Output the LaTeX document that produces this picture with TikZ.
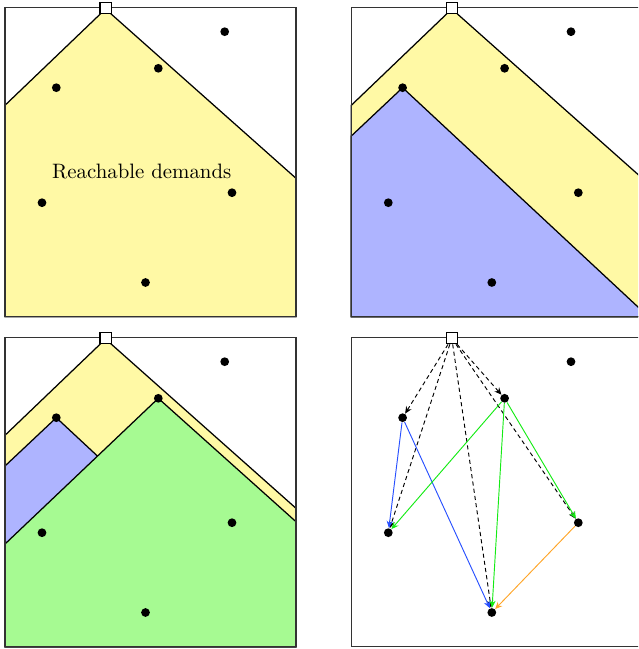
\documentclass[tikz,border=0pt]{standalone}
\usepackage{tikz}
\usetikzlibrary{arrows.meta}

\definecolor{reachyellow}{RGB}{255,249,165}
\definecolor{reachblue}{RGB}{174,180,255}
\definecolor{reachgreen}{RGB}{166,250,146}
\definecolor{routeblue}{RGB}{40,80,255}
\definecolor{routegreen}{RGB}{20,235,20}
\definecolor{routeorange}{RGB}{255,165,40}

\tikzset{
    frame/.style={draw=black!80, line width=0.5pt},
    zone/.style={draw=black, line width=0.6pt},
    demand/.style={circle, fill=black, inner sep=0pt, minimum size=4.2pt},
    depot/.style={rectangle, draw=black, fill=white, line width=0.5pt, inner sep=0pt, minimum size=5.3pt},
    route/.style={line width=0.45pt, -{Stealth[length=3.4pt, width=3pt]}},
    trip/.style={route, black, dash pattern=on 2pt off 1.5pt},
}

% demand points: name/x/y in pixels of one panel
\newcommand{\demandlist}{1/224.7/31.7, 2/158.3/68.3, 3/56.3/87.7, 4/42/202.7, 5/232/192.7, 6/145.5/282.5}

\newcommand{\drawpanel}[1]{%
    \draw[frame] (5,7.5) rectangle (296,316.7);
    \foreach \n/\x/\y in \demandlist {\node[demand] (#1-\n) at (\x,\y) {};}
    \node[depot] (#1-0) at (105.5,8.3) {};
}

\begin{document}
\begin{tikzpicture}[x=0.48pt, y=-0.48pt]
            \useasboundingbox (0,0) rectangle (638,649);
            \clip (0,0) rectangle (638,649);
            % top left: all reachable demands
            \begin{scope}
                \filldraw[zone, fill=reachyellow] (5,105.3) -- (105.5,9) -- (296,178.3) -- (296,316.7) -- (5,316.7) -- cycle;
                \node[anchor=base] (reach) at (141.7,178.3) {Reachable demands};
                \drawpanel{tl}
            \end{scope}
            % top right: after the first demand
            \begin{scope}[shift={(346.3,0)}]
                \filldraw[zone, fill=reachyellow] (5,105.3) -- (105.5,9) -- (296,178.3) -- (296,316.7) -- (5,316.7) -- cycle;
                \filldraw[zone, fill=reachblue] (5,136) -- (56.3,87.7) -- (296,311) -- (296,316.7) -- (5,316.7) -- cycle;
                \drawpanel{tr}
            \end{scope}
            % bottom left: after the second demand
            \begin{scope}[shift={(0,330)}]
                \filldraw[zone, fill=reachyellow] (5,105.3) -- (105.5,9) -- (296,178.3) -- (296,316.7) -- (5,316.7) -- cycle;
                \filldraw[zone, fill=reachblue] (5,136) -- (56.3,87.7) -- (296,311) -- (296,316.7) -- (5,316.7) -- cycle;
                \filldraw[zone, fill=reachgreen] (5,214) -- (158.3,68.3) -- (296,191.7) -- (296,316.7) -- (5,316.7) -- cycle;
                \drawpanel{bl}
            \end{scope}
            % bottom right: the resulting arcs
            \begin{scope}[shift={(346.3,330)}]
                \drawpanel{br}
                \foreach \t in {2,3,4,5,6} {\draw[trip] (br-0) -- (br-\t);}
                \draw[route, routeblue] (br-3) -- (br-4);
                \draw[route, routeblue] (br-3) -- (br-6);
                \draw[route, routegreen] (br-2) -- (br-4);
                \draw[route, routegreen] (br-2) -- (br-6);
                \draw[route, routegreen] (br-2) -- (br-5);
                \draw[route, routeorange] (br-5) -- (br-6);
            \end{scope}
        \end{tikzpicture}
\end{document}
